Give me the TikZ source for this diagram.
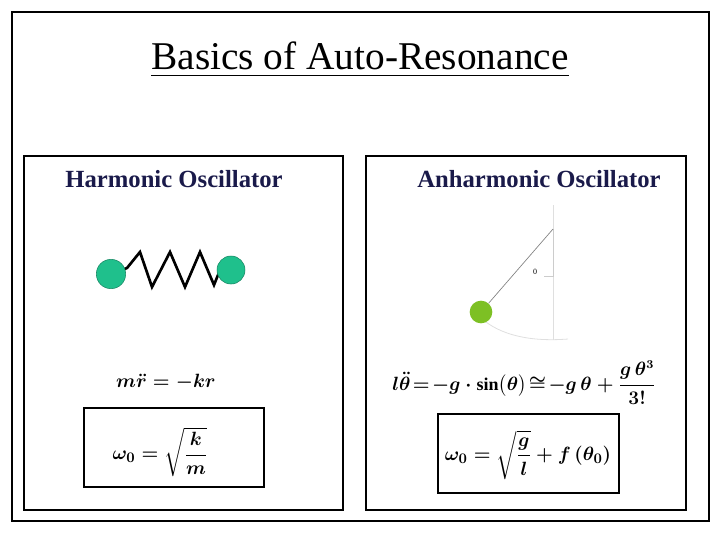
\documentclass[tikz,border=0pt]{standalone}
\usepackage{fontspec}
\usepackage{amsmath,amssymb}
\setmainfont{Liberation Serif}
\definecolor{navy}{HTML}{1A1A4A}
\definecolor{teal}{HTML}{1FC08C}
\definecolor{lime}{HTML}{7DC024}
\begin{document}
\begin{tikzpicture}[x=0.75pt,y=-0.75pt,
  panel/.style={draw=black,line width=0.8pt},
  head/.style={font=\bfseries\fontsize{18.5}{22}\selectfont,text=navy},
  eq/.style={font=\fontsize{15}{18}\selectfont\boldmath,inner sep=1pt},
  faint/.style={draw=gray!25,line width=0.6pt}]
\useasboundingbox (0,0) rectangle (720,540);
\draw[line width=1.2pt] (12,12) rectangle (709,521);
\node (title) at (360,60) {\fontsize{29.5}{34}\selectfont\underline{Basics of Auto-Resonance}};
\draw[panel] (24,156) rectangle (343,510);
\draw[panel] (366,156) rectangle (686,510);
\node[head] (h1) at (174,179) {Harmonic Oscillator};
\node[head] (h2) at (539,179) {Anharmonic Oscillator};
% spring
\draw[line width=2pt,line join=miter] (122,270) -- (127,268) -- (140,252) -- (152,287) -- (170,252) -- (185,287) -- (200,252) -- (214,285) -- (220,270);
\node[circle,fill=teal,draw=teal!70!black,minimum size=22pt,inner sep=0] (b1) at (111,274) {};
\node[circle,fill=teal,draw=teal!70!black,minimum size=21pt,inner sep=0] (b2) at (231,270) {};
\node[eq] (e1) at (166,382) {$m\ddot r=-kr$};
\draw[panel] (84,408) rectangle (264,487);
\node[eq] (w1) at (160,452) {$\omega_0=\sqrt{\dfrac{k}{m}}$};
% pendulum
\coordinate (piv) at (553,229);
\draw[faint] (553,205) -- (553,340);
\draw[gray!40,line width=0.6pt] (553,229) -- (553,276) -- (544,276);
\draw[faint] (481,318) .. controls (500,335) and (530,342) .. (568,339);
\node[circle,fill=lime,minimum size=17pt,inner sep=0] (ball) at (481,312) {};
\draw[gray,line width=0.5pt] (piv) -- (ball);
\node[font=\fontsize{6}{7}\selectfont] (th) at (535,272) {0};
\node[eq,font=\fontsize{13.5}{16}\selectfont\boldmath] (e2) at (524,383) {$l\ddot\theta\!=\!-g\cdot\sin\bigl(\theta\bigr)\!\cong\!-g\,\theta+\dfrac{g\,\theta^3}{3!}$};
\draw[panel] (438,414) rectangle (619,493);
\node[eq] (w2) at (528,455) {$\omega_0=\sqrt{\dfrac{g}{l}}+f\,(\theta_0)$};
\end{tikzpicture}
\end{document}
